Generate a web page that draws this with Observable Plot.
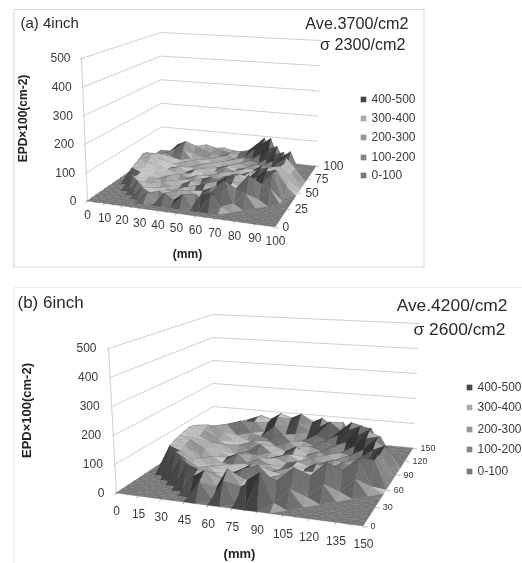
<!DOCTYPE html>
<html><head><meta charset="utf-8">
<script src="https://cdn.jsdelivr.net/npm/d3@7"></script>
<script src="https://cdn.jsdelivr.net/npm/@observablehq/plot@0.6"></script>
<style>html,body{margin:0;padding:0;background:#fff}svg{display:block;filter:blur(.6px)}</style>
</head><body><div id="c"></div><script>
// Tick labels and legend
const zTicks = [0,100,200,300,400,500];
const xTicksA = [0,10,20,30,40,50,60,70,80,90,100];
const yTicksA = [0,25,50,75,100];
const xTicksB = [0,15,30,45,60,75,90,105,120,135,150];
const yTicksB = [0,30,60,90,120,150];
const legendLabels = ["400-500","300-400","200-300","100-200","0-100"];
const legendColors = ["#474747","#aaaaaa","#969696","#848484","#777777"];

// EPD x100 (cm-2), rows front (y=0) to back, 4 inch wafer: step 5 mm
const a00=[0,0,0,0,0,0,0,0,0,0,0,0,0,0,0,0,0,0,0,0,0];
const a01=[0,0,0,0,0,0,0,0,0,0,0,0,0,0,0,0,0,0,0,0,0];
const a02=[0,0,0,0,0,0,30,0,38,18,42,0,48,60,15,0,0,0,0,0,0];
const a03=[0,0,0,0,0,35,20,30,14,40,12,34,18,46,95,20,0,0,0,0,0];
const a04=[0,0,0,0,42,18,28,12,26,16,32,14,22,36,62,60,45,0,0,0,0];
const a05=[0,0,0,48,24,32,12,24,16,30,10,26,40,32,54,38,100,20,0,0,0];
const a06=[0,0,0,38,20,15,27,18,12,22,28,40,24,50,58,27,42,65,50,0,0];
const a07=[0,0,55,42,30,23,13,26,17,31,20,16,42,62,75,48,35,60,98,0,0];
const a08=[0,0,62,50,27,17,30,12,24,15,34,44,31,26,65,41,60,85,95,0,0];
const a09=[0,0,70,60,35,24,16,28,20,32,13,23,17,30,20,48,80,90,80,30,0];
const a10=[0,0,80,72,48,30,20,15,27,12,24,16,31,19,26,40,50,75,88,40,0];
const a11=[0,0,75,70,52,27,35,19,31,21,15,30,13,24,35,23,40,60,85,50,0];
const a12=[0,0,60,65,42,32,17,26,13,30,20,12,27,17,32,25,47,72,80,60,0];
const a13=[0,0,45,55,48,24,34,20,30,16,24,32,19,28,15,34,30,62,90,55,0];
const a14=[0,0,30,48,38,28,19,35,23,31,17,27,16,25,20,40,37,58,70,0,0];
const a15=[0,0,0,40,60,60,27,20,32,19,30,20,28,17,32,24,52,70,95,0,0];
const a16=[0,0,0,35,70,85,40,30,24,34,21,31,23,34,25,46,68,80,0,0,0];
const a17=[0,0,0,0,45,60,60,47,38,28,36,27,32,30,52,78,90,0,0,0,0];
const a18=[0,0,0,0,0,50,50,60,50,45,38,34,40,62,85,110,0,0,0,0,0];
const a19=[0,0,0,0,0,0,0,35,40,45,38,36,44,70,100,0,0,0,0,0,0];
const a20=[0,0,0,0,0,0,0,0,0,0,0,0,0,0,0,0,0,0,0,0,0];
// 6 inch wafer: step 7.5 mm
const b00=[0,0,0,0,0,0,0,0,0,0,0,0,0,0,0,0,0,0,0,0,0];
const b01=[0,0,0,0,0,0,0,60,0,72,0,85,115,20,0,0,0,0,0,0,0];
const b02=[0,0,0,0,0,0,60,85,35,100,45,62,50,80,55,0,0,0,0,0,0];
const b03=[0,0,0,0,0,85,70,30,48,24,55,36,60,40,115,20,0,0,0,0,0];
const b04=[0,0,0,0,90,60,34,50,30,20,42,26,48,32,38,80,55,0,0,0,0];
const b05=[0,0,0,95,70,42,55,24,40,60,22,34,20,30,42,24,115,20,0,0,0];
const b06=[0,0,100,85,36,24,44,30,20,36,65,26,40,22,36,28,46,80,55,0,0];
const b07=[0,0,110,95,50,30,20,40,26,50,24,32,20,44,26,38,24,48,115,20,0];
const b08=[0,0,115,105,38,48,30,22,36,20,42,28,38,24,34,20,42,30,65,100,0];
const b09=[0,0,120,100,60,26,38,55,24,44,28,22,34,26,50,36,24,45,55,105,0];
const b10=[0,0,125,95,75,42,28,22,45,30,40,26,36,20,32,24,50,34,70,95,0];
const b11=[0,0,120,105,40,58,24,36,26,20,34,46,24,40,28,42,26,55,65,100,0];
const b12=[0,0,110,115,60,40,48,30,60,32,22,36,28,22,44,30,50,40,80,100,0];
const b13=[0,0,85,100,80,48,34,56,34,46,28,50,24,38,26,44,34,65,100,80,0];
const b14=[0,0,0,90,100,60,44,28,50,26,55,30,42,28,52,34,62,95,105,0,0];
const b15=[0,0,0,70,85,105,62,52,36,68,38,48,34,56,40,60,90,110,95,0,0];
const b16=[0,0,0,0,85,80,95,60,85,46,60,44,66,46,72,95,115,110,0,0,0];
const b17=[0,0,0,0,0,90,105,85,110,75,90,65,85,110,80,115,105,0,0,0,0];
const b18=[0,0,0,0,0,0,100,90,115,100,120,90,110,85,100,0,0,0,0,0,0];
const b19=[0,0,0,0,0,0,0,0,70,85,0,80,65,0,0,0,0,0,0,0,0];
const b20=[0,0,0,0,0,0,0,0,0,0,0,0,0,0,0,0,0,0,0,0,0];
const gridA=[a00,a01,a02,a03,a04,a05,a06,a07,a08,a09,a10,a11,a12,a13,a14,a15,a16,a17,a18,a19,a20];
const gridB=[b00,b01,b02,b03,b04,b05,b06,b07,b08,b09,b10,b11,b12,b13,b14,b15,b16,b17,b18,b19,b20];

// Perspective view of the box: plane at z=0 and plane at z=500, corners (0,0),(1,0),(1,1),(0,1)
function homography(q){
  const [[x0,y0],[x1,y1],[x2,y2],[x3,y3]]=q;
  const sx=x0-x1+x2-x3, sy=y0-y1+y2-y3, dx1=x1-x2, dx2=x3-x2, dy1=y1-y2, dy2=y3-y2;
  const den=dx1*dy2-dx2*dy1, g=(sx*dy2-dx2*sy)/den, h=(dx1*sy-sx*dy1)/den;
  const a=x1-x0+g*x1, b=x3-x0+h*x3, d=y1-y0+g*y1, e=y3-y0+h*y3;
  return (u,v)=>{const w=g*u+h*v+1; return [(a*u+b*v+x0)/w,(d*u+e*v+y0)/w];};
}
function view(floor,top){
  const F=homography(floor),T=homography(top);
  return (u,v,z)=>{const p=F(u,v),q=T(u,v),t=z/500; return [p[0]+(q[0]-p[0])*t,p[1]+(q[1]-p[1])*t];};
}
function facets(grid,P,tag){
  const n=grid.length-1, tris=[];
  for(let j=n-1;j>=0;j--){
    const order=d3.range(n).sort((p,q)=>Math.abs(q-n/2+.5)-Math.abs(p-n/2+.5));
    for(const i of order){
      const A=[i,j,grid[j][i]],B=[i+1,j,grid[j][i+1]],C=[i+1,j+1,grid[j+1][i+1]],D=[i,j+1,grid[j+1][i]];
      tris.push([A,C,D],[A,B,C]);
    }
  }
  const L=[.62,-.05,.78], rows=[];
  tris.forEach((t,k)=>{
    const [a,b,c]=t;
    const ux=b[0]-a[0],uy=b[1]-a[1],uz=(b[2]-a[2])/25,vx=c[0]-a[0],vy=c[1]-a[1],vz=(c[2]-a[2])/25;
    let nx=uy*vz-uz*vy,ny=uz*vx-ux*vz,nz=ux*vy-uy*vx;
    if(nz<0){nx=-nx;ny=-ny;nz=-nz;}
    const m=Math.hypot(nx,ny,nz), lit=Math.max(a[2],b[2],c[2])>0?.03:0;
    const shade=(nx*L[0]+ny*L[1]+nz*L[2])/m+lit;
    const pt=v=>P(v[0]/n,v[1]/n,v[2]);
    const pa=pt(a),pb=pt(b),pc=pt(c), id=tag+k;
    rows.push({id,shade,x1:pa[0],y1:pa[1],x2:pa[0],y2:pa[1]},{id,shade,x1:pb[0],y1:pb[1],x2:pc[0],y2:pc[1]});
  });
  return rows;
}
function panel(o){
  const P=view(o.floor,o.top), tag=o.tag, font="Liberation Sans, Arial, sans-serif";
  const grid=[];
  zTicks.filter(z=>z>0).forEach(z=>{
    grid.push({k:z,p:P(0,-.012,z)},{k:z,p:P(0,0,z)},{k:z,p:P(0,1,z)},{k:z,p:P(1,1,z)});
  });
  grid.push({k:"v",p:P(0,0,0)},{k:"v",p:P(0,0,500)});
  const xt=o.xTicks.map(t=>({t,p:P(t/o.xMax,0,0),q:P(t/o.xMax,-.02,0)}));
  const yt=o.yTicks.map(t=>({t,p:P(1,t/o.xMax,0),q:P(1.015,t/o.xMax,0)}));
  const zt=zTicks.map(t=>({t,p:P(0,0,t)}));
  const ink="#3a3a3a";
  return [
    Plot.rect([o.frame],{x1:"x1",x2:"x2",y1:"y1",y2:"y2",fill:"none",stroke:o.frame.c,strokeWidth:1}),
    Plot.line(grid,{x:d=>d.p[0],y:d=>d.p[1],z:"k",stroke:"#cfcfcf",strokeWidth:1}),
    Plot.area(facets(o.grid,P,tag),{x1:"x1",y1:"y1",x2:"x2",y2:"y2",z:"id",fill:"shade",stroke:"shade",strokeWidth:.35}),
    Plot.link(xt,{x1:d=>d.p[0],y1:d=>d.p[1],x2:d=>d.q[0],y2:d=>d.q[1],stroke:"#aaa",strokeWidth:.8}),
    Plot.link(yt,{x1:d=>d.p[0],y1:d=>d.p[1],x2:d=>d.q[0],y2:d=>d.q[1],stroke:"#aaa",strokeWidth:.8}),
    Plot.text(zt,{x:d=>d.p[0],y:d=>d.p[1],text:d=>String(d.t),dx:o.zDx,textAnchor:"end",fontSize:o.tickSize,fontFamily:font,fill:ink}),
    Plot.text(xt,{x:d=>d.p[0],y:d=>d.p[1],text:d=>String(d.t),dy:o.xDy,fontSize:o.tickSize,fontFamily:font,fill:ink}),
    Plot.text(yt,{x:d=>d.p[0],y:d=>d.p[1],text:d=>String(d.t),dx:7,textAnchor:"start",fontSize:o.depthSize,fontFamily:font,fill:ink}),
    Plot.text([o.zLabel],{x:"x",y:"y",text:"s",rotate:-90,fontWeight:"bold",fontSize:o.labelSize,fontFamily:font,fill:"#222"}),
    Plot.text([o.xLabel],{x:"x",y:"y",text:"s",fontWeight:"bold",fontSize:o.labelSize,fontFamily:font,fill:"#222"}),
    Plot.text([o.title],{x:"x",y:"y",text:"s",fontSize:o.title.f,textAnchor:"start",fontFamily:font,fill:"#2a2a2a"}),
    Plot.text(o.notes,{x:"x",y:"y",text:"s",fontSize:o.notes[0].f,textAnchor:"end",fontFamily:font,fill:"#2a2a2a"}),
    Plot.dot(legendLabels.map((s,i)=>({s,c:legendColors[i],y:o.legendY[i]})),{x:o.legendX,y:"y",symbol:"square",r:3.2,fill:"c"}),
    Plot.text(legendLabels.map((s,i)=>({s,y:o.legendY[i]})),{x:o.legendX+8,y:"y",text:"s",textAnchor:"start",fontSize:12,fontFamily:font,fill:ink})
  ];
}
const panelA={tag:"a",grid:gridA,xMax:100,xTicks:xTicksA,yTicks:yTicksA,
  floor:[[87,201],[275,227],[316,166],[161,150]],top:[[81,58],[281,76],[320,40],[160,32]],
  zDx:-11,xDy:14,tickSize:12,depthSize:12,labelSize:12,
  frame:{x1:14,x2:424,y1:9.5,y2:267,c:"#d8d8d8"},
  zLabel:{x:23,y:118,s:"EPD×100(cm-2)"},xLabel:{x:187,y:254,s:"(mm)"},
  title:{x:20,y:23,s:"(a) 4inch",f:15},
  notes:[{x:408,y:23,s:"Ave.3700/cm2",f:16.2},{x:405,y:44,s:"σ 2300/cm2"}],
  legendX:363,legendY:[99,118,137,157,175]};
const panelB={tag:"b",grid:gridB,xMax:150,xTicks:xTicksB,yTicks:yTicksB,
  floor:[[116,493],[363,526],[413,448],[213,429]],top:[[108,348],[368,371],[418,323],[212,314]],
  zDx:-12,xDy:18,tickSize:12,depthSize:9,labelSize:13,
  frame:{x1:14,x2:530,y1:287.5,y2:570,c:"#ececec"},
  zLabel:{x:26,y:410,s:"EPD×100(cm-2)"},xLabel:{x:239,y:553,s:"(mm)"},
  title:{x:17,y:302,s:"(b) 6inch",f:17},
  notes:[{x:507,y:305,s:"Ave.4200/cm2",f:17.4},{x:505,y:329,s:"σ 2600/cm2"}],
  legendX:469,legendY:[387,407,429,449,471]};
const fig=Plot.plot({width:522,height:563,margin:0,
  x:{domain:[0,522],range:[0,522],axis:null},
  y:{domain:[0,563],range:[0,563],axis:null},
  color:{type:"linear",domain:[.1,.78,1],range:["#333333","#777777","#c4c4c4"],clamp:true},
  marks:[...panel(panelA),...panel(panelB)]});
document.getElementById("c").appendChild(fig);
</script></body></html>
